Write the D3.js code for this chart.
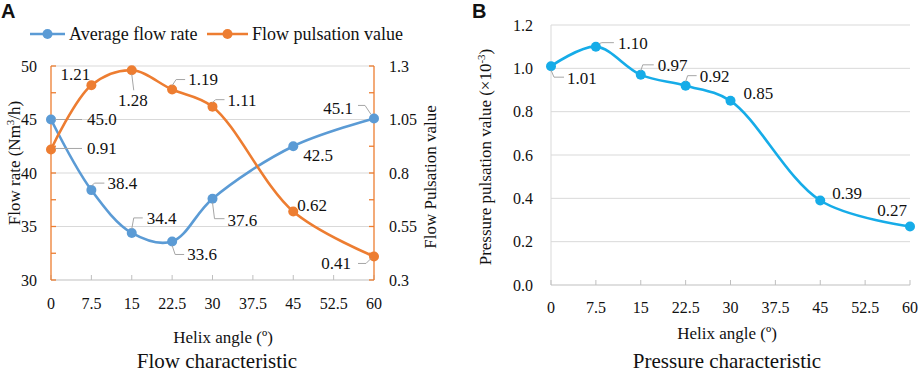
<!DOCTYPE html>
<html>
<head>
<meta charset="utf-8">
<script src="https://cdn.jsdelivr.net/npm/d3@7"></script>
<style>
  body { margin: 0; background: #fff; }
  text { font-family: "Liberation Serif", "Times New Roman", serif; fill: #111; }
</style>
</head>
<body>
<svg id="chart" width="920" height="373"></svg>
<script>
// helix angles (x) and measured values
var angles = [0, 7.5, 15, 22.5, 30, 45, 60];
var xTicks = [0, 7.5, 15, 22.5, 30, 37.5, 45, 52.5, 60];
var flowRate = [45.0, 38.4, 34.4, 33.6, 37.6, 42.5, 45.1];
var flowRateText = ["45.0", "38.4", "34.4", "33.6", "37.6", "42.5", "45.1"];
var flowPulse = [0.91, 1.21, 1.28, 1.19, 1.11, 0.62, 0.41];
var pressPulse = [1.01, 1.10, 0.97, 0.92, 0.85, 0.39, 0.27];
var flowTicks = [30, 35, 40, 45, 50];
var pulseTicks = [0.3, 0.55, 0.8, 1.05, 1.3];
var pressTicks = [0, 0.2, 0.4, 0.6, 0.8, 1.0, 1.2];

// label placement: [dx, dy, anchor, leader points]
var flowLab = [
  [36, 0, "start", [[4, 0], [31, 0]]],
  [16, -7, "start", [[0, -4], [3, -7], [13, -7]]],
  [15, -15, "start", [[0, -4], [2, -15], [11, -15]]],
  [15, 13, "start", [[0, 4], [3, 13], [12, 13]]],
  [15, 21, "start", [[0, 4], [2, 20], [12, 20]]],
  [10, 9, "start", null],
  [-21, -10, "end", [[-16, -13], [-9, -13], [-3, -4]]]
];
var pulseLab = [
  [36, -1, "start", [[4, -1], [31, -1]]],
  [-31, -11, "start", null],
  [1, 30, "middle", [[0, 4], [2, 20]]],
  [16, -10, "start", [[0, -4], [4, -10], [13, -10]]],
  [15, -7, "start", [[0, -4], [3, -7], [12, -7]]],
  [4, -6, "start", null],
  [-23, 7, "end", [[-16, 7], [-8, 7], [-3, 2]]]
];
var pressLab = [
  [16, 12, "start", [[0, 4], [3, 11], [13, 11]]],
  [22, -4, "start", [[3, -3], [6, -4], [18, -4]]],
  [17, -10, "start", [[0, -4], [2, -10], [13, -10]]],
  [14, -10, "start", [[0, -4], [2, -10], [11, -10]]],
  [13, -8, "start", null],
  [12, -7, "start", null],
  [-3, -16, "end", null]
];

var blue = "#5b9bd5", orange = "#ed7d31", cyan = "#16ace8";
var grid = "#d9d9d9", axisGrey = "#bfbfbf", leader = "#a6a6a6";

var svg = d3.select("#chart");
var curve = d3.curveCatmullRom.alpha(0.5);

function drawSeries(g, x, y, vals, color, labs, texts) {
  var pts = angles.map(function(a, i) { return [x(a), y(vals[i])]; });
  g.append("path").datum(pts)
    .attr("fill", "none").attr("stroke", color).attr("stroke-width", 2.6)
    .attr("d", d3.line().curve(curve));
  g.selectAll(null).data(pts).enter().append("circle")
    .attr("cx", function(d) { return d[0]; }).attr("cy", function(d) { return d[1]; })
    .attr("r", 5).attr("fill", color);
  pts.forEach(function(p, i) {
    var l = labs[i];
    if (l[3]) {
      g.append("path")
        .attr("d", d3.line()(l[3].map(function(q) { return [p[0] + q[0], p[1] + q[1]]; })))
        .attr("fill", "none").attr("stroke", leader).attr("stroke-width", 1);
    }
    g.append("text").attr("x", p[0] + l[0]).attr("y", p[1] + l[1])
      .attr("dy", "0.35em").attr("text-anchor", l[2])
      .style("font-size", "17px")
      .text(texts ? texts[i] : d3.format(".2f")(vals[i]));
  });
}

// ---------- panel A ----------
var ax = d3.scaleLinear().domain([0, 60]).range([51, 374]);
var ayL = d3.scaleLinear().domain([30, 50]).range([280, 66]);
var ayR = d3.scaleLinear().domain([0.3, 1.3]).range([280, 66]);
var A = svg.append("g");

A.selectAll(null).data(flowTicks.slice(1)).enter().append("line")
  .attr("x1", ax(0)).attr("x2", ax(60))
  .attr("y1", function(d) { return ayL(d); }).attr("y2", function(d) { return ayL(d); })
  .attr("stroke", grid);
A.append("line").attr("x1", ax(0)).attr("x2", ax(60)).attr("y1", ayL(30)).attr("y2", ayL(30))
  .attr("stroke", axisGrey);
A.selectAll(null).data(xTicks).enter().append("line")
  .attr("x1", function(d) { return ax(d); }).attr("x2", function(d) { return ax(d); })
  .attr("y1", ayL(30)).attr("y2", ayL(30) - 5).attr("stroke", axisGrey);

// orange side axes with minor ticks
var minorL = d3.range(30, 50.01, 2.5);
[[ax(0), 5], [ax(60), -5]].forEach(function(s) {
  A.append("line").attr("x1", s[0]).attr("x2", s[0]).attr("y1", ayL(30)).attr("y2", ayL(50))
    .attr("stroke", orange).attr("stroke-width", 1.3);
  A.selectAll(null).data(minorL).enter().append("line")
    .attr("x1", s[0]).attr("x2", s[0] + s[1])
    .attr("y1", function(d) { return ayL(d); }).attr("y2", function(d) { return ayL(d); })
    .attr("stroke", orange).attr("stroke-width", 1.3);
});

A.selectAll(null).data(flowTicks).enter().append("text")
  .attr("x", 37).attr("y", function(d) { return ayL(d); }).attr("dy", "0.35em")
  .attr("text-anchor", "end").style("font-size", "16px").text(function(d) { return d; });
A.selectAll(null).data(pulseTicks).enter().append("text")
  .attr("x", 389).attr("y", function(d) { return ayR(d); }).attr("dy", "0.35em")
  .style("font-size", "16px").text(function(d) { return d; });
A.selectAll(null).data(xTicks).enter().append("text")
  .attr("x", function(d) { return ax(d); }).attr("y", 303).attr("dy", "0.35em")
  .attr("text-anchor", "middle").style("font-size", "16px").text(function(d) { return d; });

A.append("text").attr("transform", "translate(14,163) rotate(-90)").attr("dy", "0.35em")
  .attr("text-anchor", "middle").style("font-size", "17px")
  .html('Flow rate (Nm<tspan dy="-6" font-size="11px">3</tspan><tspan dy="6">/h)</tspan>');
A.append("text").attr("transform", "translate(430,177) rotate(-90)").attr("dy", "0.35em")
  .attr("text-anchor", "middle").style("font-size", "17px").text("Flow Pulsation value");
A.append("text").attr("x", 223).attr("y", 337).attr("dy", "0.35em")
  .attr("text-anchor", "middle").style("font-size", "17px").text("Helix angle (º)");
A.append("text").attr("x", 217).attr("y", 368)
  .attr("text-anchor", "middle").style("font-size", "21px").text("Flow characteristic");

drawSeries(A, ax, ayL, flowRate, blue, flowLab, flowRateText);
drawSeries(A, ax, ayR, flowPulse, orange, pulseLab);

// legend
var legend = [["Average flow rate", blue, 30, 65], ["Flow pulsation value", orange, 207, 248]];
legend.forEach(function(l) {
  A.append("line").attr("x1", l[2]).attr("x2", l[3]).attr("y1", 34).attr("y2", 34)
    .attr("stroke", l[1]).attr("stroke-width", 2.6);
  A.append("circle").attr("cx", (l[2] + l[3]) / 2).attr("cy", 34).attr("r", 5).attr("fill", l[1]);
  A.append("text").attr("x", l[3] + 4).attr("y", 34).attr("dy", "0.35em")
    .style("font-size", "18px").text(l[0]);
});

// ---------- panel B ----------
var bx = d3.scaleLinear().domain([0, 60]).range([551, 910]);
var by = d3.scaleLinear().domain([0, 1.2]).range([285, 25]);
var B = svg.append("g");

B.selectAll(null).data(pressTicks.slice(1)).enter().append("line")
  .attr("x1", bx(0)).attr("x2", bx(60))
  .attr("y1", function(d) { return by(d); }).attr("y2", function(d) { return by(d); })
  .attr("stroke", grid);
B.append("line").attr("x1", bx(0)).attr("x2", bx(0)).attr("y1", by(0)).attr("y2", by(1.2))
  .attr("stroke", grid);
B.append("line").attr("x1", bx(0)).attr("x2", bx(60)).attr("y1", by(0)).attr("y2", by(0))
  .attr("stroke", axisGrey);
B.selectAll(null).data(xTicks).enter().append("line")
  .attr("x1", function(d) { return bx(d); }).attr("x2", function(d) { return bx(d); })
  .attr("y1", by(0)).attr("y2", by(0) - 5).attr("stroke", axisGrey);

B.selectAll(null).data(pressTicks).enter().append("text")
  .attr("x", 533).attr("y", function(d) { return by(d); }).attr("dy", "0.35em")
  .attr("text-anchor", "end").style("font-size", "16px").text(function(d) { return d3.format(".1f")(d); });
B.selectAll(null).data(xTicks).enter().append("text")
  .attr("x", function(d) { return bx(d); }).attr("y", 307).attr("dy", "0.35em")
  .attr("text-anchor", "middle").style("font-size", "16px").text(function(d) { return d; });

B.append("text").attr("transform", "translate(485,157) rotate(-90)").attr("dy", "0.35em")
  .attr("text-anchor", "middle").style("font-size", "17px")
  .html('Pressure pulsation value (×10<tspan dy="-6" font-size="11px">-3</tspan><tspan dy="6">)</tspan>');
B.append("text").attr("x", 727).attr("y", 333).attr("dy", "0.35em")
  .attr("text-anchor", "middle").style("font-size", "17px").text("Helix angle (º)");
B.append("text").attr("x", 727).attr("y", 368)
  .attr("text-anchor", "middle").style("font-size", "21px").text("Pressure characteristic");

drawSeries(B, bx, by, pressPulse, cyan, pressLab);

// panel letters
svg.append("text").attr("x", 1).attr("y", 18).style("font-family", "Liberation Sans, Arial, sans-serif")
  .style("font-weight", "bold").style("font-size", "20px").text("A");
svg.append("text").attr("x", 472).attr("y", 18).style("font-family", "Liberation Sans, Arial, sans-serif")
  .style("font-weight", "bold").style("font-size", "20px").text("B");
</script>
</body>
</html>
